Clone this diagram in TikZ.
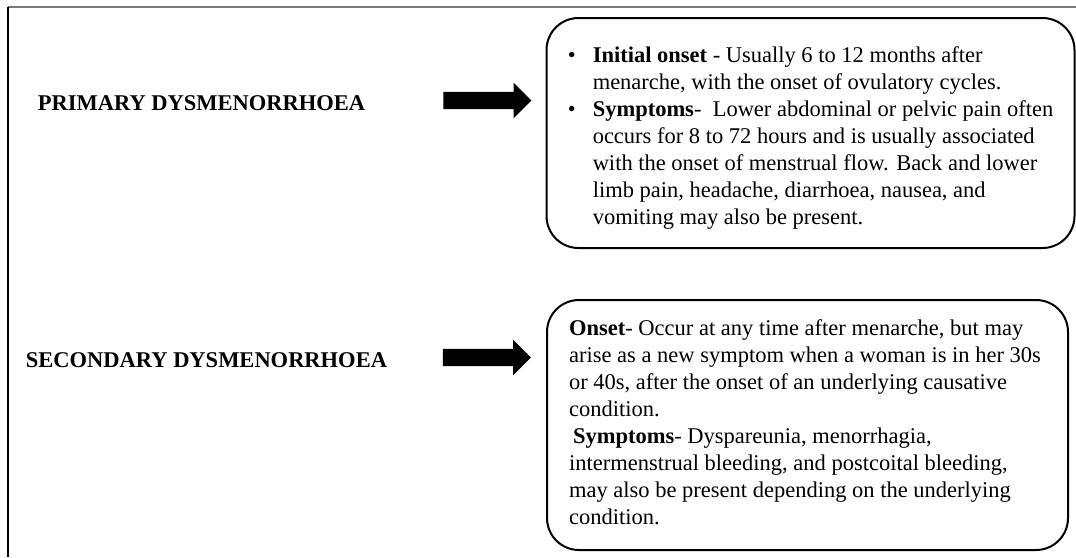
\documentclass[tikz,border=0pt]{standalone}
\usepackage{fontspec}
\setmainfont{Liberation Serif}
\usetikzlibrary{shapes.arrows,positioning}
\definecolor{framegray}{HTML}{7A7A7A}
\tikzset{
  heading/.style={
    text=black,
    inner sep=0pt,
    font=\bfseries\fontsize{22.5}{27}\selectfont
  },
  notebox/.style={
    draw=black,
    line width=2pt,
    rounded corners=32pt,
    align=left,
    inner sep=0pt,
    text=black,
    font=\fontsize{22.5}{27}\selectfont
  },
  pointer/.style={
    single arrow,
    fill=black,
    draw=none,
    inner xsep=0pt,
    inner ysep=8.5pt,
    text height=0pt,
    text depth=0pt,
    minimum height=88pt,
    minimum width=35pt,
    single arrow head extend=9pt,
    single arrow head indent=0pt
  }
}
\newcommand{\bul}{\makebox[25pt][l]{\textbullet}}
\newcommand{\ind}{\hspace*{25pt}}

\begin{document}
\begin{tikzpicture}[x=1pt,y=-1pt]
  \useasboundingbox (0,0) rectangle (1076,557);

  % page frame
  \draw[framegray, line width=2pt] (8,7) -- (1076,7);
  \draw[black, line width=2pt] (8,7) -- (8,557);

  \node[heading] (primary) at (201.5,103) {PRIMARY DYSMENORRHOEA};
  \node[heading] (secondary) at (206.5,360) {SECONDARY DYSMENORRHOEA};

  \node[pointer] (primarrow) at (483,100.5) {};
  \node[pointer] (secarrow) at (482.5,357.5) {};

  \node[notebox, minimum width=528pt, minimum height=230pt] (primbox) at (810.5,133)
    {\begin{tabular}{@{}l@{}}
     \rule{0pt}{28.9pt}\bul\textbf{Initial onset} - Usually 6 to 12 months after\\
     \ind menarche, with the onset of ovulatory cycles.\\
     \bul\textbf{Symptoms}-\ \ Lower abdominal or pelvic pain often\\
     \ind occurs for 8 to 72 hours and is usually associated\\
     \ind with the onset of menstrual flow. Back and lower\\
     \ind limb pain, headache, diarrhoea, nausea, and\\
     \ind vomiting may also be present.
     \end{tabular}};

  \node[notebox, minimum width=521pt, minimum height=250pt] (secbox) at (807.5,425)
    {\begin{tabular}{@{}l@{\hspace{5pt}}}
     \textbf{Onset}- Occur at any time after menarche, but may\\
     arise as a new symptom when a woman is in her 30s\\
     or 40s, after the onset of an underlying causative\\
     condition.\\
     \hspace*{4pt}\textbf{Symptoms}- Dyspareunia, menorrhagia,\\
     intermenstrual bleeding, and postcoital bleeding,\\
     may also be present depending on the underlying\\
     condition.
     \end{tabular}};
\end{tikzpicture}
\end{document}
